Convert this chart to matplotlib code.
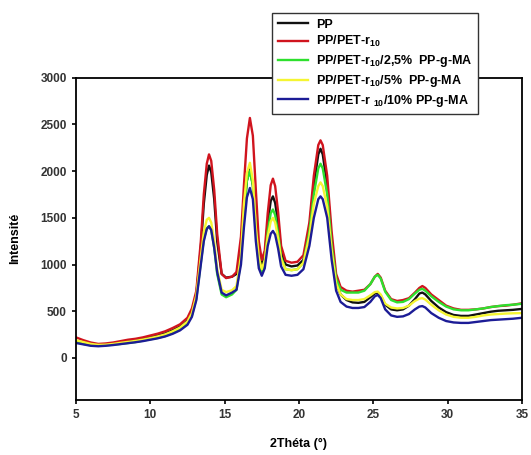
import matplotlib
matplotlib.use("Agg")
import matplotlib.pyplot as plt

plt.rcParams["font.family"] = ["Liberation Sans", "DejaVu Sans"]
plt.rcParams["mathtext.fontset"] = "custom"
plt.rcParams["mathtext.rm"] = "Liberation Sans:bold"
plt.rcParams["mathtext.bf"] = "Liberation Sans:bold"

# 2-theta grid (degrees)
two_theta = [5, 5.5, 6, 6.5, 7, 7.5, 8, 8.5, 9, 9.5, 10, 10.5, 11, 11.5, 12, 12.5, 12.8,
             13.1, 13.4, 13.6, 13.8, 13.95, 14.1, 14.3, 14.5, 14.8, 15.1, 15.5, 15.8,
             16.1, 16.3, 16.5, 16.7, 16.9, 17.1, 17.3, 17.5, 17.7, 17.9, 18.1, 18.25,
             18.4, 18.6, 18.8, 19.1, 19.5, 19.9, 20.3, 20.7, 21.0, 21.3, 21.45, 21.6,
             21.9, 22.2, 22.5, 22.8, 23.2, 23.6, 24.0, 24.4, 24.8, 25.1, 25.3, 25.5,
             25.8, 26.2, 26.6, 27.0, 27.4, 27.8, 28.1, 28.3, 28.5, 28.9, 29.4, 29.9,
             30.4, 30.9, 31.4, 31.9, 32.4, 32.9, 33.4, 33.9, 34.4, 35.0]

pp = [180, 165, 150, 140, 145, 155, 168, 180, 190, 205, 220, 240, 262, 295, 335, 400, 490,
      680, 1180, 1650, 1960, 2060, 1990, 1700, 1250, 900, 860, 870, 900,
      1150, 1550, 1900, 2020, 1850, 1400, 1100, 1000, 1100, 1450, 1680, 1730,
      1660, 1450, 1150, 1000, 980, 990, 1050, 1380, 1850, 2180, 2240, 2180,
      1850, 1250, 800, 680, 620, 595, 590, 600, 650, 690, 700, 670,
      570, 520, 510, 520, 560, 630, 690, 700, 680, 610, 540, 490,
      460, 450, 450, 465, 480, 495, 505, 510, 515, 525]

pp_pet = [220, 190, 165, 150, 155, 165, 180, 195, 205, 220, 240, 260, 285, 320, 360, 430, 530,
          720, 1250, 1750, 2080, 2180, 2110, 1800, 1330, 900, 855, 870, 920,
          1300, 1850, 2350, 2570, 2380, 1800, 1250, 1050, 1150, 1550, 1850, 1920,
          1840, 1560, 1200, 1040, 1020, 1030, 1100, 1450, 1950, 2280, 2330, 2280,
          1950, 1350, 900, 760, 720, 710, 720, 730, 790, 870, 900, 860,
          720, 630, 610, 620, 640, 700, 750, 770, 750, 680, 620, 560,
          530, 515, 515, 520, 530, 545, 555, 560, 570, 585]

pp_pet_25 = [170, 150, 135, 130, 135, 142, 150, 160, 170, 185, 200, 215, 235, 265, 305, 370, 455,
             640, 1020, 1270, 1390, 1410, 1370, 1180, 900, 680, 650, 680, 730,
             1050, 1550, 1900, 2000, 1850, 1350, 1000, 900, 1000, 1350, 1550, 1590,
             1530, 1330, 1080, 950, 940, 950, 1020, 1350, 1750, 2030, 2080, 2030,
             1750, 1200, 850, 730, 700, 700, 700, 720, 790, 870, 890, 850,
             710, 620, 595, 600, 630, 690, 730, 740, 720, 660, 600, 550,
             520, 510, 510, 520, 530, 545, 555, 565, 570, 580]

pp_pet_5 = [190, 170, 150, 140, 142, 150, 162, 172, 182, 196, 212, 230, 252, 285, 325, 390, 480,
            670, 1080, 1350, 1480, 1500, 1450, 1250, 950, 730, 705, 725, 770,
            1100, 1650, 1980, 2090, 1900, 1400, 1080, 950, 1050, 1300, 1460, 1500,
            1450, 1280, 1060, 950, 940, 950, 1020, 1300, 1650, 1840, 1880, 1840,
            1620, 1150, 800, 680, 630, 620, 620, 630, 670, 705, 710, 680,
            580, 540, 530, 535, 560, 610, 635, 640, 625, 570, 510, 465,
            440, 430, 430, 440, 455, 465, 470, 475, 478, 480]

pp_pet_10 = [160, 145, 130, 125, 130, 138, 148, 158, 168, 180, 195, 210, 230, 258, 295, 355, 440,
             620, 1000, 1250, 1380, 1410, 1370, 1180, 920, 700, 670, 700, 730,
             1000, 1400, 1720, 1820, 1700, 1250, 960, 880, 960, 1200, 1330, 1360,
             1320, 1170, 980, 890, 880, 890, 950, 1200, 1500, 1700, 1730, 1700,
             1500, 1050, 720, 600, 550, 535, 535, 545, 600, 660, 675, 640,
             520, 455, 440, 445, 470, 520, 550, 555, 540, 480, 430, 395,
             380, 375, 375, 385, 395, 405, 410, 415, 420, 430]

labels = [
    "PP",
    r"PP/PET-r$_{10}$",
    r"PP/PET-r$_{10}$/2,5%  PP-g-MA",
    r"PP/PET-r$_{10}$/5%  PP-g-MA",
    r"PP/PET-r $_{10}$/10% PP-g-MA",
]
colors = ["#111111", "#d0141e", "#2ee02e", "#f5f532", "#1c1c96"]

fig = plt.figure(figsize=(5.31, 4.55), dpi=100)
ax = fig.add_axes([0.143, 0.121, 0.840, 0.708])

series = [pp, pp_pet, pp_pet_25, pp_pet_5, pp_pet_10]
handles = []
for ys, lab, col in zip(series, labels, colors):
    (h,) = ax.plot(two_theta, ys, color=col, lw=1.7, label=lab)
    handles.append(h)

ax.set_xlim(5, 35)
ax.set_ylim(-450, 3000)
ax.set_xticks([5, 10, 15, 20, 25, 30, 35])
ax.set_yticks([0, 500, 1000, 1500, 2000, 2500, 3000])
ax.set_yticklabels(["0", "500", "1000", "1500", "2000", "2500", "3000"])
for lab in ax.get_xticklabels() + ax.get_yticklabels():
    lab.set_fontweight("bold")
    lab.set_fontsize(8.5)
    lab.set_color("#333333")
ax.tick_params(direction="out", length=3, width=1.2)
for sp in ax.spines.values():
    sp.set_linewidth(1.3)

ax.set_xlabel("2Théta (°)", fontsize=9, fontweight="bold", labelpad=12)
ax.set_ylabel("Intensité", fontsize=9, fontweight="bold", labelpad=14)

leg = fig.legend(handles=handles, loc="upper left", bbox_to_anchor=(272 / 531, 1 - 13 / 455),
                 borderaxespad=0, frameon=True, fancybox=False, edgecolor="#333333",
                 framealpha=1, prop={"weight": "bold", "size": 9}, handlelength=2.4,
                 labelspacing=0.3, borderpad=0.45, handletextpad=0.7)
leg.get_frame().set_linewidth(1.0)

fig.savefig("out.png", dpi=100)
